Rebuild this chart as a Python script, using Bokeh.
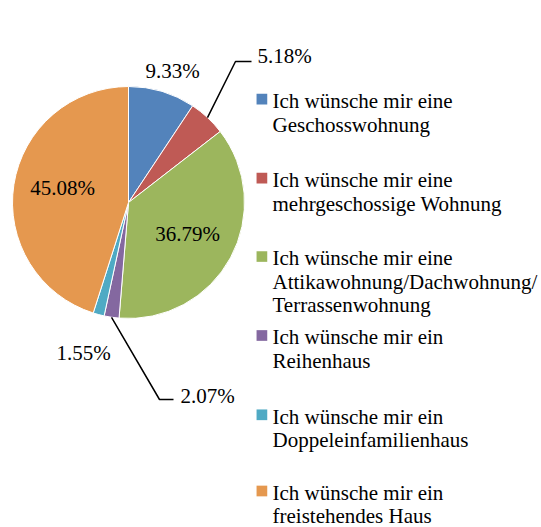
import math
from bokeh.plotting import figure
from bokeh.models import Range1d
from bokeh.core.properties import value
from bokeh.embed import file_html
from bokeh.resources import INLINE

# ---- data ----
legend_lines = [
    ["Ich wünsche mir eine", "Geschosswohnung"],
    ["Ich wünsche mir eine", "mehrgeschossige Wohnung"],
    ["Ich wünsche mir eine", "Attikawohnung/Dachwohnung/", "Terrassenwohnung"],
    ["Ich wünsche mir ein", "Reihenhaus"],
    ["Ich wünsche mir ein", "Doppeleinfamilienhaus"],
    ["Ich wünsche mir ein", "freistehendes Haus"],
]
shares = [9.33, 5.18, 36.79, 2.07, 1.55, 45.08]
pct_labels = ["9.33%", "5.18%", "36.79%", "2.07%", "1.55%", "45.08%"]
colors = ["#5383BB", "#BF5A55", "#9CB65D", "#8468A0", "#4FAAC4", "#E5984F"]

# ---- layout (page pixel coordinates, y downward) ----
PAGE_W, PAGE_H = 541, 527
CX, CY, R = 128, 202, 116
FS = "21px"
FONT = value("Liberation Serif")
MID_OFF = 7.1  # em-box centre above the alphabetic baseline

def Y(y):
    return PAGE_H - y

label_pos = {0: (172, 70), 2: (187, 233), 4: (83, 352), 5: (62, 187)}
leaders = {
    1: ((235, 61), (251, 61), (257, 55)),
    3: ((159, 399), (173, 399), (180, 395)),
}
legend_baseline = [107.7, 186.7, 265, 344, 423.3, 499.5]
legend_line_h = 23.4
legend_marker_x = 261.4
legend_text_x = 272

p = figure(width=PAGE_W, height=PAGE_H, x_range=Range1d(0, PAGE_W), y_range=Range1d(0, PAGE_H),
           output_backend="svg", toolbar_location=None, min_border=0)
p.axis.visible = False
p.grid.visible = False
p.outline_line_color = None

total = sum(shares)
cum = 0.0
starts, ends, mids = [], [], []
for s in shares:
    a0 = math.pi / 2 - 2 * math.pi * cum / total
    cum += s
    a1 = math.pi / 2 - 2 * math.pi * cum / total
    starts.append(a0); ends.append(a1); mids.append((a0 + a1) / 2)

p.wedge(x=[CX] * len(shares), y=[Y(CY)] * len(shares), radius=R,
        start_angle=starts, end_angle=ends, direction="clock",
        fill_color=colors, line_color="white", line_width=1)

for i, lab in enumerate(pct_labels):
    if i in label_pos:
        lx, ly = label_pos[i]
        p.text(x=[lx], y=[Y(ly)], text=[lab], text_font=FONT, text_font_size=FS,
               text_align="center", text_baseline="middle", text_color="black")
    else:
        (ex, ey), (hx, hy), (tx, ty) = leaders[i]
        sx = CX + R * math.cos(mids[i]); sy = Y(CY) + R * math.sin(mids[i])
        p.line(x=[sx, ex, hx], y=[sy, Y(ey), Y(hy)], line_color="black", line_width=1.5)
        p.text(x=[tx], y=[Y(ty)], text=[lab], text_font=FONT, text_font_size=FS,
               text_align="left", text_baseline="middle", text_color="black")

for i, lines in enumerate(legend_lines):
    b0 = legend_baseline[i]
    p.rect(x=[legend_marker_x], y=[Y(b0 - 9)], width=10.7, height=10.7,
           fill_color=colors[i], line_color=None)
    for j, t in enumerate(lines):
        p.text(x=[legend_text_x], y=[Y(b0 + j * legend_line_h - MID_OFF)], text=[t],
               text_font=FONT, text_font_size=FS, text_align="left",
               text_baseline="middle", text_color="black")

open("out.html", "w").write(file_html(p, INLINE))
